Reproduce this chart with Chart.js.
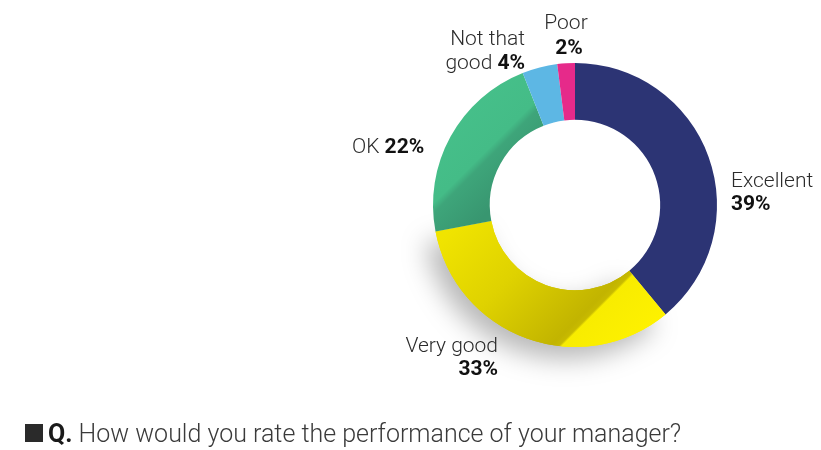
<!DOCTYPE html>
<html>
<head>
<meta charset="utf-8">
<script src="https://cdn.jsdelivr.net/npm/chart.js@4"></script>
<style>
  html, body { margin: 0; padding: 0; background: #fff; }
  #wrap { position: relative; width: 821px; height: 450px; }
  #c { position: absolute; left: 0; top: 0; }
  #sq { position: absolute; left: 25px; top: 424px; width: 18px; height: 18px; background: #2a2a2a; }
  #q { position: absolute; left: 48px; top: 421px; font-family: Roboto, "Liberation Sans", sans-serif;
       font-size: 25px; font-weight: 300; color: #3a3a3a; white-space: nowrap; line-height: 25px; }
  #q b { font-weight: 700; color: #1a1a1a; }
</style>
</head>
<body>
<div id="wrap">
  <canvas id="c" width="821" height="450"></canvas>
  <div id="sq"></div>
  <div id="q"><b>Q.</b> How would you rate the performance of your manager?</div>
</div>
<script>
const categories = ["Excellent", "Very good", "OK", "Not that good", "Poor"];
const values = [39, 33, 22, 4, 2];
const labelLines = [["Excellent"], ["Very good"], ["OK"], ["Not that", "good"], ["Poor"]];
const colors = ["#2c3474", "#fbee00", "#44bd88", "#5db7e4", "#e62a8a"];

const FONT = 'Roboto, "Liberation Sans", sans-serif';

function yellowGrad(ctx) {
  const g = ctx.createLinearGradient(340, 340, 495, 495);
  g.addColorStop(0, "#f0e400");
  g.addColorStop(0.35, "#dfd200");
  g.addColorStop(0.70, "#c2b400");
  g.addColorStop(0.725, "#c8ba00");
  g.addColorStop(0.735, "#f8ec00");
  g.addColorStop(1, "#fff200");
  return g;
}
function greenGrad(ctx) {
  const g = ctx.createLinearGradient(410, 150, 480, 220);
  g.addColorStop(0, "#46c08a");
  g.addColorStop(0.55, "#44bc87");
  g.addColorStop(0.62, "#3ea57a");
  g.addColorStop(1, "#389670");
  return g;
}

// label layout relative to doughnut center
const labelLayout = [
  { dx: 156, dy: -18, align: "left", split: true },
  { dx: -77, dy: 147, align: "right", split: true },
  { dx: -223, dy: -52, align: "left", split: false },
  { dx: -50, dy: -160, align: "right", split: true },
  { dx: -9, dy: -176, align: "center", split: true }
];

const shadowPlugin = {
  id: "shadow",
  beforeDatasetsDraw(chart) {
    const meta = chart.getDatasetMeta(0);
    const ctx = chart.ctx;
    const arc = meta.data[1];
    if (!arc) return;
    ctx.save();
    ctx.shadowColor = "rgba(0,0,0,0.28)";
    ctx.shadowBlur = 26;
    ctx.shadowOffsetX = -10;
    ctx.shadowOffsetY = 12;
    arc.draw(ctx);
    ctx.restore();
  }
};

function drawPair(ctx, text, pct, x, y, align, reg, bold) {
  ctx.font = reg;
  const w1 = ctx.measureText(text).width;
  ctx.font = bold;
  const w2 = ctx.measureText(pct).width;
  const sx = align === "left" ? x : (align === "right" ? x - w1 - w2 : x - (w1 + w2) / 2);
  ctx.textAlign = "left";
  ctx.font = reg; ctx.fillStyle = "#2b2b2b"; ctx.fillText(text, sx, y);
  ctx.font = bold; ctx.fillStyle = "#111"; ctx.fillText(pct, sx + w1, y);
}

const labelPlugin = {
  id: "labels",
  afterDatasetsDraw(chart) {
    const meta = chart.getDatasetMeta(0);
    const ctx = chart.ctx;
    const a0 = meta.data[0];
    const cx = a0.x, cy = a0.y;
    const reg = "300 21px " + FONT;
    const bold = "700 21px " + FONT;
    const lh = 24;
    ctx.save();
    ctx.textBaseline = "alphabetic";
    categories.forEach((cat, i) => {
      const L = labelLayout[i];
      const x = cx + L.dx;
      let y = cy + L.dy;
      const lines = labelLines[i];
      const pct = values[i] + "%";
      if (!L.split) {
        drawPair(ctx, lines[0] + " ", pct, x, y, L.align, reg, bold);
        return;
      }
      if (lines.length === 2) {
        ctx.font = reg; ctx.fillStyle = "#2b2b2b"; ctx.textAlign = L.align;
        ctx.fillText(lines[0], x, y);
        drawPair(ctx, lines[1] + " ", pct, x, y + lh, L.align, reg, bold);
      } else {
        ctx.textAlign = L.align;
        ctx.font = reg; ctx.fillStyle = "#2b2b2b"; ctx.fillText(lines[0], x, y);
        ctx.font = bold; ctx.fillStyle = "#111";
        ctx.fillText(pct, x + (L.align === "center" ? 3 : 0), y + (i === 4 ? 25 : 23));
      }
    });
    ctx.restore();
  }
};

new Chart(document.getElementById("c"), {
  type: "doughnut",
  data: {
    labels: categories,
    datasets: [{
      data: values,
      backgroundColor: (c) => {
        const i = c.dataIndex;
        if (i === 1) return yellowGrad(c.chart.ctx);
        if (i === 2) return greenGrad(c.chart.ctx);
        return colors[i];
      },
      borderWidth: 0,
      hoverOffset: 0
    }]
  },
  options: {
    responsive: false,
    maintainAspectRatio: false,
    animation: false,
    cutout: "60%",
    rotation: 0,
    layout: { padding: { left: 433, right: 104, top: 63, bottom: 103 } },
    plugins: { legend: { display: false }, tooltip: { enabled: false } },
    events: []
  },
  plugins: [shadowPlugin, labelPlugin]
});
</script>
</body>
</html>
